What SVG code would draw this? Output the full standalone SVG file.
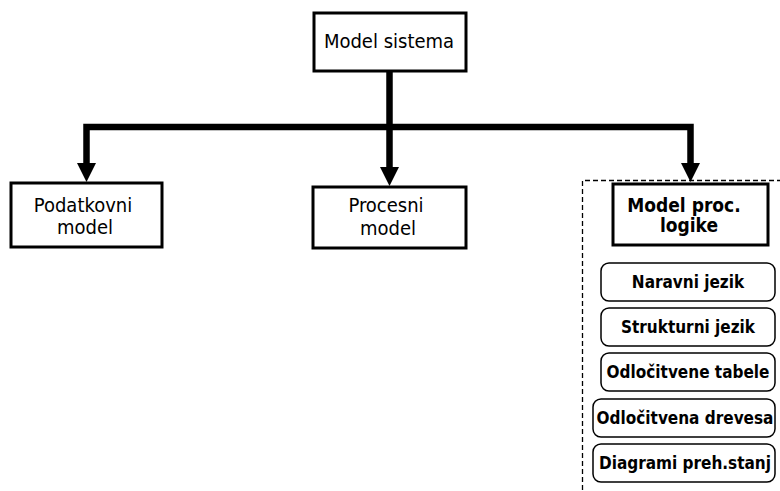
<svg xmlns="http://www.w3.org/2000/svg" width="780" height="491" viewBox="0 0 780 491">
<style>
.box{fill:#fff;stroke:#000;stroke-width:3}
.sub{fill:#fff;stroke:#000;stroke-width:1.5}
.t{font-family:"DejaVu Sans Condensed","DejaVu Sans",sans-serif;font-size:20px;fill:#000;text-anchor:middle}
.b{font-family:"DejaVu Sans Condensed","DejaVu Sans",sans-serif;font-weight:bold;font-size:19px;fill:#000;text-anchor:middle}
.s{font-family:"DejaVu Sans Condensed","DejaVu Sans",sans-serif;font-weight:bold;font-size:17px;fill:#000;text-anchor:middle}
.c{fill:none;stroke:#000;stroke-width:6.5;stroke-linejoin:miter}
</style>
<rect width="780" height="491" fill="#fff"/>
<g id="group-frame">
<path d="M582.5,490 V180.5 H780" fill="none" stroke="#000" stroke-width="1.3" stroke-dasharray="5,3"/>
</g>
<g id="connectors">
<path class="c" d="M389.5,71 V167"/>
<path class="c" d="M86.5,164 V127 H690.5 V164"/>
<polygon points="77,163 96,163 86.5,182"/>
<polygon points="380,167 399,167 389.5,186"/>
<polygon points="681,163 700,163 690.5,182"/>
</g>
<g id="node-model-sistema">
<rect class="box" x="314" y="13" width="152" height="58"/>
<text class="t" x="389" y="48">Model sistema</text>
</g>
<g id="node-podatkovni">
<rect class="box" x="11" y="183" width="151" height="64"/>
<text class="t" x="83" y="212">Podatkovni</text>
<text class="t" x="85" y="234">model</text>
</g>
<g id="node-procesni">
<rect class="box" x="313" y="187" width="153" height="61"/>
<text class="t" x="386" y="212">Procesni</text>
<text class="t" x="388" y="235">model</text>
</g>
<g id="node-model-proc">
<rect class="box" x="613" y="184" width="155" height="61"/>
<text class="b" x="684" y="212">Model proc.</text>
<text class="b" x="689" y="232">logike</text>
</g>
<g id="node-naravni">
<rect class="sub" x="601" y="263" width="174" height="38" rx="8"/>
<text class="s" x="688" y="288">Naravni jezik</text>
</g>
<g id="node-strukturni">
<rect class="sub" x="601" y="308" width="174" height="38" rx="8"/>
<text class="s" x="688" y="333">Strukturni jezik</text>
</g>
<g id="node-tabele">
<rect class="sub" x="601" y="353" width="174" height="38" rx="8"/>
<text class="s" x="688" y="378">Odločitvene tabele</text>
</g>
<g id="node-drevesa">
<rect class="sub" x="593" y="399" width="182" height="38" rx="8"/>
<text class="s" x="685" y="424">Odločitvena drevesa</text>
</g>
<g id="node-diagrami">
<rect class="sub" x="593" y="444" width="182" height="38" rx="8"/>
<text class="s" x="685" y="469">Diagrami preh.stanj</text>
</g>
</svg>
